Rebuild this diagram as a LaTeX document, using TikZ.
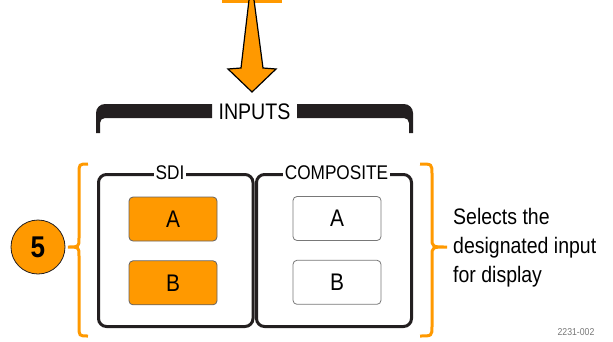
\documentclass[tikz,border=0pt]{standalone}
\usepackage{fontspec}
\setmainfont{Liberation Sans}[FakeStretch=0.87]
\usetikzlibrary{positioning}
\definecolor{tekorange}{RGB}{255,153,0}
\definecolor{tekdark}{RGB}{35,31,32}
\definecolor{tekgrey}{RGB}{120,120,120}
\tikzset{
  groupbox/.style={rectangle, rounded corners=8pt, draw=tekdark, line width=3pt,
                   minimum width=#1, minimum height=152pt, inner sep=0pt},
  grouplbl/.style={fill=white, inner xsep=2pt, inner ysep=0pt,
                   font=\fontsize{19.8}{22}\selectfont},
  selbtn/.style={rectangle, rounded corners=4pt, draw=#1, line width=0.8pt,
                 minimum width=88pt, minimum height=44pt, inner sep=0pt,
                 font=\fontsize{24}{28}\selectfont},
  brace/.style={draw=tekorange, line width=3pt},
}

\begin{document}
\begin{tikzpicture}[x=1pt, y=-1pt]
  \useasboundingbox (0,0) rectangle (613,341);
  % arrow from above
  \fill[tekorange] (222,0) rectangle (282,3);
  \draw[fill=tekorange, line width=1.2pt, line join=miter]
    (249,0) -- (241,68) -- (228,69) -- (252,92) -- (276,69) -- (263,68) -- (254,0);
  % INPUTS bracket
  \foreach \xo/\xi/\xe in {96/100/212, 413/409/297}{
    \fill[tekdark] (\xo,133) [rounded corners=9pt] -- (\xo,104) [sharp corners]
      -- (\xe,104) -- (\xe,118) [rounded corners=5pt] -- (\xi,118) [sharp corners]
      -- (\xi,133) -- cycle;
  }
  \node[font=\fontsize{22.5}{26}\selectfont, inner sep=0pt] (inputs) at (254.5,112) {INPUTS};
  % input groups
  \node[groupbox=154.5pt] (sdi) at (175.75,250.5) {};
  \node[groupbox=155pt] (comp) at (334,250.5) {};
  \node[grouplbl] (sdilbl) at (170,173) {SDI};
  \node[grouplbl] (complbl) at (336.5,173) {COMPOSITE};
  % buttons
  \node[selbtn=tekdark!70, fill=tekorange] (sdia) at (173,219) {A};
  \node[selbtn=tekdark!70, fill=tekorange, below=19pt of sdia] (sdib) {B};
  \node[selbtn=tekgrey, fill=white] (compa) at (337,218.5) {A};
  \node[selbtn=tekgrey, fill=white, below=19pt of compa] (compb) {B};
  % braces
  \foreach \xe/\xv/\xt in {88/79/68, 420/432/447}{
    \draw[brace] (\xe,164) .. controls (\xv,164) .. (\xv,174) -- (\xv,238)
      .. controls (\xv,247) .. (\xt,247) .. controls (\xv,247) .. (\xv,256)
      -- (\xv,326) .. controls (\xv,336) .. (\xe,336);
  }
  % callout number
  \node[circle, draw=tekdark, line width=0.8pt, fill=tekorange, minimum size=54pt,
        inner sep=0pt, font=\fontsize{30}{32}\selectfont\bfseries] (num) at (38,247) {5};
  % description
  \node[anchor=north west, align=left, inner sep=0pt,
        font=\fontsize{22.4}{29}\selectfont] (desc) at (453,208.5)
    {Selects the\\designated input\\for display};
  \node[font=\fontsize{10}{12}\selectfont, text=tekgrey, inner sep=0pt] (figid) at (576,332) {2231-002};
\end{tikzpicture}
\end{document}
